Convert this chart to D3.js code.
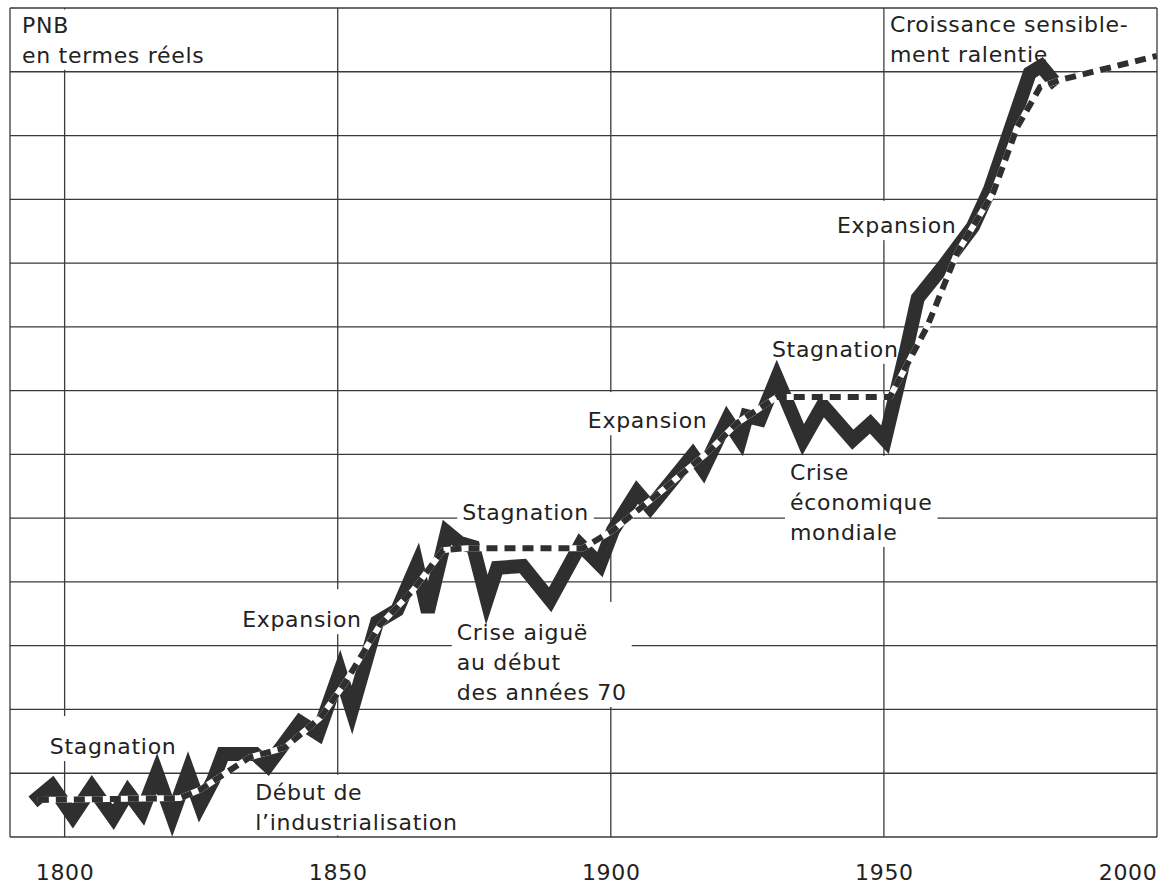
<!DOCTYPE html>
<html lang="fr">
<head>
<meta charset="UTF-8">
<title>PNB en termes réels</title>
<script src="https://d3js.org/d3.v7.min.js"></script>
<style>
  body { margin: 0; background: #fff; }
  svg text { font-family: "DejaVu Sans", sans-serif; font-size: 22px; fill: #222; letter-spacing: 0.7px; }
</style>
</head>
<body>
<svg id="chart" width="1166" height="884"></svg>
<script>
// PNB in grid units (1 unit = one horizontal grid row)
const pnbYears = [1794.2, 1797.7, 1801.5, 1805.0, 1808.9, 1811.6, 1814.2, 1816.9, 1819.7, 1822.6,
                  1824.8, 1827.2, 1829.0, 1834.9, 1837.2, 1843.1, 1846.4, 1850.4, 1852.6, 1857.2,
                  1860.9, 1864.5, 1866.5, 1870.0, 1872.4, 1874.8, 1877.3, 1879.2, 1883.9, 1888.9,
                  1894.4, 1898.0, 1900.4, 1904.8, 1907.2, 1915.0, 1916.9, 1921.3, 1923.7, 1924.9,
                  1927.3, 1930.4, 1935.2, 1938.8, 1944.3, 1947.5, 1950.2, 1953.9, 1956.2, 1960.8,
                  1966.3, 1969.4, 1972.2, 1976.7, 1978.8, 1981.7];
const pnbValues = [0.55, 0.80, 0.33, 0.78, 0.31, 0.70, 0.40, 1.00, 0.33, 1.02,
                   0.50, 0.89, 1.30, 1.30, 1.12, 1.80, 1.62, 2.59, 1.99, 3.37,
                   3.56, 4.27, 3.53, 4.78, 4.61, 4.55, 3.72, 4.22, 4.25, 3.72,
                   4.58, 4.27, 4.81, 5.41, 5.17, 5.99, 5.76, 6.54, 6.23, 6.60,
                   6.55, 7.20, 6.23, 6.77, 6.23, 6.48, 6.23, 7.56, 8.45, 8.94,
                   9.57, 10.15, 10.85, 11.98, 12.09, 11.79];

// long-run trend (dotted / dashed line)
const trendYears = [1795.1, 1821.1, 1824.8, 1833.9, 1840.3, 1846.8, 1851.3, 1857.7, 1863.8, 1869.3,
                    1873.7, 1894.9, 1900.4, 1907.2, 1917.6, 1923.1, 1930.4, 1951.1, 1957.9, 1963.4,
                    1970.0, 1974.4, 1978.6, 1982.2, 2000.0];
const trendValues = [0.58, 0.61, 0.74, 1.25, 1.40, 1.87, 2.41, 3.32, 3.87, 4.50,
                     4.53, 4.53, 4.81, 5.28, 6.02, 6.49, 6.90, 6.90, 8.00, 9.16,
                     10.10, 11.13, 11.76, 11.87, 12.25];

const gridYears = [1800, 1850, 1900, 1950];
const tickYears = [1800, 1850, 1900, 1950, 2000];
const rowCount = 13;

const labels = [
  { lines: ["PNB", "en termes réels"], year: 1792.2, value: 12.61 },
  { lines: ["Croissance sensible-", "ment ralentie"], year: 1951.1, value: 12.62 },
  { lines: ["Stagnation"], year: 1797.3, value: 1.30 },
  { lines: ["Début de", "l’industrialisation"], year: 1834.9, value: 0.58 },
  { lines: ["Expansion"], year: 1832.5, value: 3.29 },
  { lines: ["Stagnation"], year: 1872.8, value: 4.97 },
  { lines: ["Crise aiguë", "au début", "des années 70"], year: 1871.8, value: 3.09 },
  { lines: ["Expansion"], year: 1895.8, value: 6.41 },
  { lines: ["Stagnation"], year: 1929.5, value: 7.53 },
  { lines: ["Crise", "économique", "mondiale"], year: 1932.8, value: 5.60 },
  { lines: ["Expansion"], year: 1941.4, value: 9.47 }
];

const svg = d3.select("#chart");
const x = d3.scaleLinear().domain([1790, 2000]).range([10, 1157]);
const y = d3.scaleLinear().domain([0, rowCount]).range([837, 8]);
const rows = d3.range(0, rowCount + 1);
const lineH = 30;

// grid
const grid = svg.append("g").attr("stroke", "#3a3a3a").attr("stroke-width", 1.3);
grid.selectAll(".h").data(rows).enter().append("line")
    .attr("x1", x(1790)).attr("x2", x(2000))
    .attr("y1", d => y(d)).attr("y2", d => y(d));
grid.selectAll(".v").data(gridYears.concat([1790, 2000])).enter().append("line")
    .attr("x1", d => x(d)).attr("x2", d => x(d))
    .attr("y1", y(0)).attr("y2", y(rowCount));

// axis labels
const axis = svg.append("g")
    .attr("transform", `translate(0,${y(0)})`)
    .call(d3.axisBottom(x).tickValues(tickYears).tickSize(0).tickPadding(27).tickFormat(d3.format("d")));
axis.select(".domain").remove();
axis.attr("font-size", null).attr("font-family", null);
axis.selectAll("text").filter(d => d === 2000).attr("text-anchor", "end");

// annotation texts with white boxes cutting the grid
const maskLayer = svg.append("g");
const textLayer = svg.append("g");
const rowPix = rows.map(r => y(r));

labels.forEach(lb => {
  const t = textLayer.append("text").attr("x", x(lb.year)).attr("y", y(lb.value));
  lb.lines.forEach((s, i) => {
    t.append("tspan").attr("x", x(lb.year)).attr("dy", i === 0 ? 0 : lineH).text(s);
  });
  const bb = t.node().getBBox();
  const above = d3.max(rowPix.filter(p => p < bb.y)) ?? y(rowCount);
  const below = d3.min(rowPix.filter(p => p > bb.y + bb.height)) ?? y(0);
  const top = Math.max(bb.y - 18, above + 1.5);
  const bottom = Math.min(bb.y + bb.height + 2, below - 1.5);
  maskLayer.append("rect")
      .attr("x", bb.x - 5).attr("y", top)
      .attr("width", bb.width + 10).attr("height", bottom - top)
      .attr("fill", "#fff");
});

// curves
const line = d3.line().x(d => x(d[0])).y(d => y(d[1]));
const pnb = pnbYears.map((yr, i) => [yr, pnbValues[i]]);
const trend = trendYears.map((yr, i) => [yr, trendValues[i]]);

svg.append("path").datum(pnb)
    .attr("d", line)
    .attr("fill", "none")
    .attr("stroke", "#2f2f2f")
    .attr("stroke-width", 14)
    .attr("stroke-linejoin", "miter")
    .attr("stroke-miterlimit", 4);

svg.append("path").datum(trend)
    .attr("d", line)
    .attr("fill", "none")
    .attr("stroke", "#fff")
    .attr("stroke-width", 6);

svg.append("path").datum(trend)
    .attr("d", line)
    .attr("fill", "none")
    .attr("stroke", "#2f2f2f")
    .attr("stroke-width", 6)
    .attr("stroke-dasharray", "11,7");
</script>
</body>
</html>
